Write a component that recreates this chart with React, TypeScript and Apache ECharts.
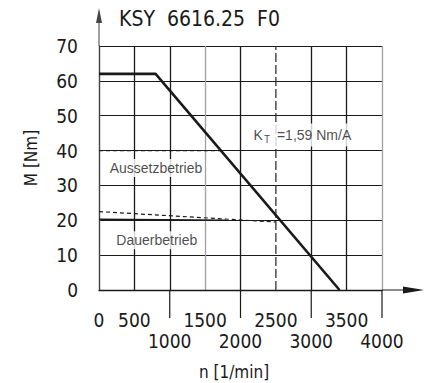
import React, { useEffect, useRef } from 'react';
import * as echarts from 'echarts';

// ---- data ----
const X_MIN = 0;
const X_MAX = 4000;
const X_STEP = 500;
const Y_MIN = 0;
const Y_MAX = 70;
const Y_STEP = 10;

const PEAK_CURVE = [[0, 62], [800, 62], [3400, 0]];
const INTERMITTENT_LIMIT = [[0, 40], [1720, 40]];
const CONTINUOUS_DASHED = [[0, 22.5], [2500, 19.5]];
const CONTINUOUS_SOLID = [[0, 20.3], [1800, 20]];
const RATED_SPEED_LINE = [[2500, 0], [2500, 70]];
const MAJOR_TICKS = [1000, 2000, 3000, 4000];
const ANNOTATION_POS = [[2150, 44.5], [115, 35], [210, 14.3]];
const ANNOTATION_TEXT = ['K{t|T} =1,59 Nm/A', 'Aussetzbetrieb', 'Dauerbetrieb'];
const TITLE = 'KSY  6616.25  F0';
const Y_NAME = 'M [Nm]';
const X_NAME = 'n [1/min]';

// ---- styles ----
const NARROW = "'Liberation Sans Narrow', 'DejaVu Sans Condensed', 'Liberation Sans', sans-serif";
const SANS = "'Liberation Sans', Arial, sans-serif";
const INK = '#1a1a1a';
const GRAY = '#a0a0a0';
const V_GRID_COLORS = [GRAY, INK, INK, GRAY, INK, 'rgba(0,0,0,0)', INK, INK, GRAY];

const Y_ARROW = 'path://M2.5,38 L2.5,15 L0,15 L3,0 L6,15 L3.5,15 L3.5,38 Z';
const X_ARROW = 'path://M3,42 L3,21 L0,21 L3.5,0 L7,21 L4,21 L4,42 Z';

const isMajor = (v: number) => v > 0 && v % 1000 === 0;

export default function App() {
  const ref = useRef<HTMLDivElement>(null);

  useEffect(() => {
    if (!ref.current) return;
    const chart = echarts.init(ref.current, undefined, { renderer: 'svg' });

    const lineBase = {
      type: 'line' as const,
      symbol: 'none',
      silent: true,
      animation: false,
      clip: false,
    };

    const labelBase = {
      fontFamily: NARROW,
      fontSize: 19,
      color: INK,
      showMinLabel: true,
      showMaxLabel: true,
      hideOverlap: false,
    };

    chart.setOption({
      animation: false,
      backgroundColor: '#ffffff',
      title: {
        text: TITLE,
        left: 114,
        top: 3,
        textStyle: { fontFamily: NARROW, fontSize: 21, fontWeight: 'normal', color: INK },
      },
      grid: { left: 99, right: 49, top: 46, bottom: 93, containLabel: false },
      xAxis: [
        {
          type: 'value',
          min: X_MIN,
          max: X_MAX,
          interval: X_STEP,
          axisLine: {
            show: true,
            lineStyle: { color: INK, width: 1.3 },
            symbol: ['none', X_ARROW],
            symbolSize: [7, 42],
            symbolOffset: [0, 21],
          },
          axisTick: { show: false },
          axisLabel: {
            ...labelBase,
            margin: 20,
            formatter: (v: number) => (isMajor(v) ? '' : String(v)),
          },
          splitLine: {
            show: true,
            showMinLine: true,
            showMaxLine: true,
            lineStyle: { color: V_GRID_COLORS, width: 1.3 },
          },
        },
        {
          type: 'value',
          position: 'bottom',
          min: X_MIN,
          max: X_MAX,
          interval: X_STEP,
          axisLine: { show: false },
          axisTick: { show: false },
          splitLine: { show: false },
          axisLabel: {
            ...labelBase,
            margin: 41,
            formatter: (v: number) => (isMajor(v) ? String(v) : ''),
          },
        },
      ],
      yAxis: {
        type: 'value',
        min: Y_MIN,
        max: Y_MAX,
        interval: Y_STEP,
        axisLine: {
          show: true,
          lineStyle: { color: '#444', width: 1.3 },
          symbol: ['none', Y_ARROW],
          symbolSize: [6, 38],
          symbolOffset: [0, 19],
        },
        axisTick: { show: false },
        axisLabel: { fontFamily: NARROW, fontSize: 19, color: INK, margin: 21 },
        splitLine: { show: true, lineStyle: { color: INK, width: 1.2 } },
      },
      graphic: [
        {
          type: 'text',
          x: 31,
          y: 158,
          rotation: Math.PI / 2,
          style: {
            text: Y_NAME,
            fontFamily: NARROW,
            fontSize: 17,
            fill: INK,
            align: 'center',
            verticalAlign: 'middle',
          },
        },
        {
          type: 'text',
          x: 234,
          y: 372,
          style: {
            text: X_NAME,
            fontFamily: NARROW,
            fontSize: 17,
            fill: INK,
            align: 'center',
            verticalAlign: 'middle',
          },
        },
      ],
      series: [
        { ...lineBase, data: PEAK_CURVE, lineStyle: { color: INK, width: 2.6 }, z: 5 },
        { ...lineBase, data: INTERMITTENT_LIMIT, lineStyle: { color: INK, width: 1.2, type: [4, 3] } },
        { ...lineBase, data: CONTINUOUS_DASHED, lineStyle: { color: INK, width: 1.2, type: [4, 3] } },
        { ...lineBase, data: CONTINUOUS_SOLID, lineStyle: { color: INK, width: 1.6 } },
        { ...lineBase, data: RATED_SPEED_LINE, lineStyle: { color: '#333', width: 1.3, type: [9, 3] } },
        {
          type: 'custom',
          silent: true,
          clip: false,
          data: MAJOR_TICKS.map((v) => [v, 0]),
          renderItem: (_params: any, api: any) => {
            const p = api.coord([api.value(0), api.value(1)]);
            return {
              type: 'line',
              shape: { x1: p[0], y1: p[1], x2: p[0], y2: p[1] + 28 },
              style: { stroke: INK, lineWidth: 1.2 },
            };
          },
        },
        {
          type: 'scatter',
          silent: true,
          symbolSize: 1,
          z: 10,
          itemStyle: { color: 'rgba(0,0,0,0)' },
          data: ANNOTATION_POS,
          label: {
            show: true,
            position: 'right',
            distance: 0,
            fontFamily: SANS,
            fontSize: 14,
            color: INK,
            backgroundColor: '#ffffff',
            padding: [2, 2, 2, 2],
            formatter: (p: any) => ANNOTATION_TEXT[p.dataIndex],
            rich: {
              t: { fontFamily: SANS, fontSize: 10, color: INK, padding: [9, 3, 0, 1] },
            },
          },
        },
      ],
    });

    return () => chart.dispose();
  }, []);

  return <div ref={ref} style={{ width: 431, height: 383, position: 'absolute', left: 0, top: 0 }} />;
}
